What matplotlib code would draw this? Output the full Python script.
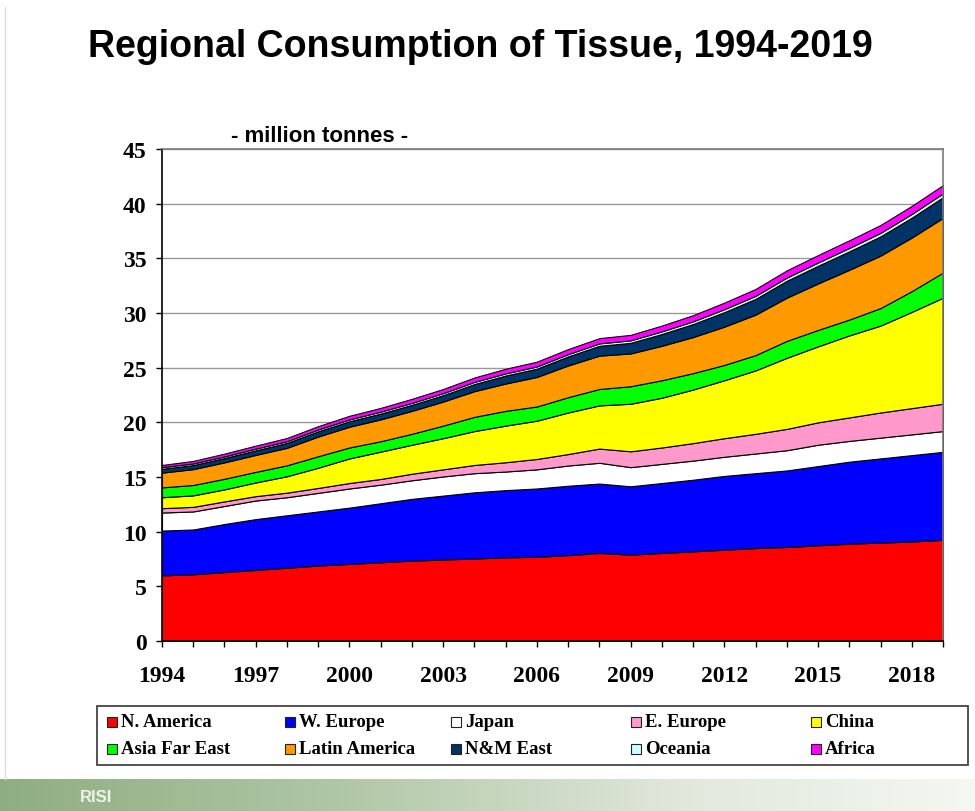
import numpy as np
import matplotlib
matplotlib.use("Agg")
import matplotlib.pyplot as plt
from matplotlib.patches import Rectangle
from matplotlib import font_manager

# ---- data (million tonnes) ----
years = list(range(1994, 2020))
n_america = [6.0, 6.1, 6.3, 6.5, 6.7, 6.9, 7.05, 7.2, 7.35, 7.45, 7.55, 7.65, 7.7,
             7.85, 8.05, 7.9, 8.05, 8.2, 8.35, 8.5, 8.6, 8.75, 8.9, 9.0, 9.1, 9.25]
w_europe = [4.1, 4.1, 4.4, 4.65, 4.8, 4.95, 5.15, 5.4, 5.65, 5.85, 6.05, 6.15, 6.25,
            6.35, 6.35, 6.25, 6.4, 6.55, 6.75, 6.85, 7.0, 7.25, 7.5, 7.7, 7.9, 8.05]
japan = [1.65, 1.65, 1.65, 1.7, 1.65, 1.7, 1.75, 1.7, 1.7, 1.75, 1.75, 1.7, 1.75,
         1.85, 1.9, 1.75, 1.75, 1.75, 1.75, 1.8, 1.85, 1.95, 1.9, 1.9, 1.9, 1.9]
e_europe = [0.4, 0.42, 0.42, 0.4, 0.42, 0.45, 0.5, 0.52, 0.6, 0.65, 0.75, 0.85, 0.95,
            1.05, 1.3, 1.45, 1.5, 1.6, 1.7, 1.8, 1.95, 2.05, 2.15, 2.3, 2.4, 2.5]
china = [1.0, 1.05, 1.1, 1.25, 1.5, 1.85, 2.25, 2.5, 2.65, 2.85, 3.1, 3.35, 3.5,
         3.8, 3.95, 4.35, 4.55, 4.9, 5.3, 5.8, 6.5, 6.95, 7.5, 7.95, 8.8, 9.7]
asia_far_east = [0.9, 0.95, 0.97, 0.97, 1.0, 1.05, 1.0, 0.95, 1.0, 1.15, 1.3, 1.35, 1.3,
                 1.4, 1.5, 1.6, 1.6, 1.5, 1.4, 1.4, 1.55, 1.5, 1.45, 1.6, 1.9, 2.3]
latin_america = [1.35, 1.45, 1.5, 1.55, 1.6, 1.8, 1.9, 2.0, 2.1, 2.2, 2.35, 2.5, 2.7,
                 2.9, 3.05, 3.0, 3.15, 3.3, 3.5, 3.7, 3.95, 4.25, 4.55, 4.8, 4.9, 5.0]
nm_east = [0.35, 0.37, 0.4, 0.42, 0.45, 0.48, 0.5, 0.53, 0.55, 0.58, 0.65, 0.73, 0.76,
           0.83, 0.9, 0.97, 1.08, 1.19, 1.33, 1.44, 1.55, 1.62, 1.69, 1.76, 1.82, 1.89]
oceania = [0.15, 0.15, 0.15, 0.16, 0.16, 0.17, 0.17, 0.18, 0.18, 0.19, 0.2, 0.2, 0.2,
           0.21, 0.22, 0.23, 0.24, 0.25, 0.27, 0.28, 0.29, 0.3, 0.31, 0.32, 0.34, 0.35]
africa = [0.2, 0.23, 0.25, 0.27, 0.29, 0.3, 0.33, 0.34, 0.37, 0.38, 0.4, 0.42, 0.44,
          0.46, 0.48, 0.5, 0.53, 0.56, 0.6, 0.63, 0.66, 0.68, 0.7, 0.72, 0.74, 0.76]

region_names = ["N. America", "W. Europe", "Japan", "E. Europe", "China",
                "Asia Far East", "Latin America", "N&M East", "Oceania", "Africa"]
region_colors = ["#FF0000", "#0000FF", "#FFFFFF", "#FF99CC", "#FFFF00",
                 "#00FF00", "#FF9900", "#003366", "#CCFFFF", "#FF00FF"]
series = [n_america, w_europe, japan, e_europe, china,
          asia_far_east, latin_america, nm_east, oceania, africa]

x_tick_years = list(range(1994, 2020, 3))
y_ticks = list(range(0, 46, 5))

# ---- fonts ----
available = {f.name for f in font_manager.fontManager.ttflist}
serif = "Liberation Serif" if "Liberation Serif" in available else "DejaVu Serif"
if "Liberation Sans Narrow" in available:
    title_family, title_size = "Liberation Sans Narrow", 31
else:
    title_family, title_size = "Liberation Sans", 27

W, H = 975, 812
fig = plt.figure(figsize=(W / 100, H / 100), dpi=100)
fig.patch.set_facecolor("white")

ax = fig.add_axes([162 / W, 1 - 642 / H, (943 - 162) / W, (642 - 150) / H])
ax.stackplot(years, *series, colors=region_colors, edgecolor="black",
             linewidth=0.8, zorder=2)
ax.set_xlim(1994, 2019)
ax.set_ylim(0, 45)
ax.set_yticks(y_ticks)
ax.set_xticks(x_tick_years)
ax.set_xticks(years, minor=True)
ax.grid(axis="y", color="#999999", linewidth=1.0, zorder=0)
ax.set_axisbelow(True)

for s in ("left", "bottom"):
    ax.spines[s].set_color("black")
    ax.spines[s].set_linewidth(1.2)
for s in ("top", "right"):
    ax.spines[s].set_color("#7a7a7a")
    ax.spines[s].set_linewidth(1.2)

ax.tick_params(axis="y", which="major", direction="out", length=4, width=1,
               pad=7, labelsize=17)
ax.tick_params(axis="x", which="major", direction="out", length=4, width=1,
               pad=13, labelsize=17)
ax.tick_params(axis="x", which="minor", direction="out", length=4, width=1)
for lab in ax.get_xticklabels() + ax.get_yticklabels():
    lab.set_fontfamily(serif)
    lab.set_fontweight("bold")

# ---- titles ----
fig.text(88 / W, 1 - 47 / H, "Regional Consumption of Tissue, 1994-2019",
         family=title_family, fontweight="bold", fontsize=title_size,
         ha="left", va="center")
fig.text(320 / W, 1 - 147 / H, "- million tonnes -", family="Liberation Sans",
         fontweight="bold", fontsize=16, ha="center", va="bottom")

# ---- legend box ----
lx0, lx1, ly0, ly1 = 97, 968, 707, 766
fig.patches.append(Rectangle((lx0 / W, 1 - ly1 / H), (lx1 - lx0) / W, (ly1 - ly0) / H,
                             transform=fig.transFigure, facecolor="white",
                             edgecolor="#444444", linewidth=1.3, zorder=3))
col_x = [112, 290, 456, 636, 816]
row_y = [723, 750]
sq = 10
for i, (name, col) in enumerate(zip(region_names, region_colors)):
    cx, cy = col_x[i % 5], row_y[i // 5]
    fig.patches.append(Rectangle(((cx - sq / 2) / W, 1 - (cy + sq / 2) / H), sq / W, sq / H,
                                 transform=fig.transFigure, facecolor=col,
                                 edgecolor="#222222", linewidth=0.8, zorder=4))
    fig.text((cx + 9) / W, 1 - cy / H, name, family=serif, fontweight="bold",
             fontsize=13.5, ha="left", va="center", zorder=5)

# ---- footer band ----
band = fig.add_axes([0, 0, 1, 32 / H])
band.set_axis_off()
grad_x = np.linspace(0, 1, 400)
stops = np.array([0.0, 0.35, 0.7, 1.0])
cols = np.array([[0.56, 0.68, 0.51],
                 [0.69, 0.78, 0.65],
                 [0.88, 0.91, 0.86],
                 [0.96, 0.97, 0.95]])
rgb = np.stack([np.interp(grad_x, stops, cols[:, k]) for k in range(3)], axis=-1)
band.imshow(rgb[np.newaxis, :, :], aspect="auto", extent=(0, 1, 0, 1))
band.set_xlim(0, 1)
band.set_ylim(0, 1)
band.text(80 / W, 0.45, "RISI", color="#eef3ea", fontsize=12, fontweight="bold",
          family="Liberation Sans", ha="left", va="center")

# thin page edge on the left
fig.add_artist(plt.Line2D([5 / W, 5 / W], [32 / H, 1 - 8 / H],
                          transform=fig.transFigure, color="#dddddd", linewidth=1))

fig.savefig("out.png", dpi=100)
